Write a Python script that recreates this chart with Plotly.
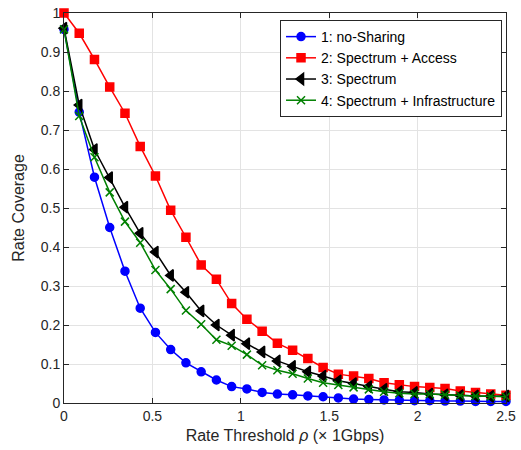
import plotly.graph_objects as go

x_vals = [i * 2.5 / 29 for i in range(30)]

no_sharing = [0.958, 0.746, 0.579, 0.450, 0.338, 0.243, 0.181, 0.137, 0.103, 0.080,
              0.059, 0.042, 0.036, 0.027, 0.023, 0.021, 0.018, 0.016, 0.013, 0.010,
              0.009, 0.008, 0.007, 0.006, 0.006, 0.005, 0.005, 0.004, 0.004, 0.004]
spectrum_access = [1.000, 0.948, 0.881, 0.810, 0.743, 0.658, 0.582, 0.494, 0.425, 0.354,
                   0.317, 0.255, 0.215, 0.184, 0.153, 0.135, 0.114, 0.091, 0.074, 0.069,
                   0.063, 0.052, 0.047, 0.042, 0.040, 0.037, 0.031, 0.027, 0.023, 0.020]
spectrum = [0.961, 0.764, 0.650, 0.578, 0.502, 0.435, 0.387, 0.327, 0.284, 0.236,
            0.200, 0.174, 0.152, 0.131, 0.108, 0.094, 0.080, 0.069, 0.057, 0.050,
            0.042, 0.035, 0.029, 0.027, 0.023, 0.021, 0.019, 0.018, 0.017, 0.018]
spectrum_infra = [0.958, 0.736, 0.630, 0.540, 0.465, 0.411, 0.341, 0.292, 0.237, 0.202,
                  0.162, 0.147, 0.124, 0.097, 0.084, 0.075, 0.063, 0.052, 0.046, 0.040,
                  0.035, 0.029, 0.025, 0.023, 0.023, 0.021, 0.019, 0.018, 0.017, 0.016]

names = ["1: no-Sharing", "2: Spectrum + Access", "3: Spectrum", "4: Spectrum + Infrastructure"]
x_ticks = [0, 0.5, 1, 1.5, 2, 2.5]
x_tick_labels = ["0", "0.5", "1", "1.5", "2", "2.5"]
y_ticks = [0, 0.1, 0.2, 0.3, 0.4, 0.5, 0.6, 0.7, 0.8, 0.9, 1]
y_tick_labels = ["0", "0.1", "0.2", "0.3", "0.4", "0.5", "0.6", "0.7", "0.8", "0.9", "1"]

FONT = "Liberation Sans, Arial, sans-serif"

fig = go.Figure()
series = [
    (no_sharing, "#0000ff", "circle", 8),
    (spectrum_access, "#ff0000", "square", 8),
    (spectrum, "#000000", "triangle-left", 10),
    (spectrum_infra, "#008000", "x-thin", 8),
]
for (vals, col, sym, sz), nm in zip(series, names):
    fig.add_trace(go.Scatter(
        x=x_vals, y=vals, name=nm, mode="lines+markers",
        line=dict(color=col, width=1.5),
        marker=dict(symbol=sym, size=sz, color=col,
                    line=dict(color=col, width=1.5)),
        cliponaxis=False,
    ))

axis_common = dict(
    showline=True, linecolor="#262626", linewidth=1, mirror="ticks",
    ticks="inside", ticklen=5, tickcolor="#262626",
    showgrid=True, gridcolor="#e3e3e3", gridwidth=1,
    zeroline=False, ticklabeloverflow="allow",
    tickfont=dict(family=FONT, size=14, color="#262626"),
)

fig.update_xaxes(
    range=[0, 2.5], tickvals=x_ticks, ticktext=x_tick_labels,
    title=dict(text="Rate Threshold <i>ρ</i> (× 1Gbps)", standoff=7,
               font=dict(family=FONT, size=16, color="#262626")),
    **axis_common,
)
fig.update_yaxes(
    range=[0, 1], tickvals=y_ticks, ticktext=y_tick_labels,
    title=dict(text="Rate Coverage", standoff=12,
               font=dict(family=FONT, size=16, color="#262626")),
    **axis_common,
)

fig.update_layout(
    width=521, height=450,
    margin=dict(l=64, r=5, t=7, b=47),
    plot_bgcolor="white", paper_bgcolor="white",
    showlegend=True,
    legend=dict(
        x=0.991, y=0.982, xanchor="right", yanchor="top",
        bgcolor="white", bordercolor="#262626", borderwidth=1,
        font=dict(family=FONT, size=14, color="#000000"),
        tracegroupgap=0, itemwidth=30,
    ),
)

fig.write_html("out.html")
